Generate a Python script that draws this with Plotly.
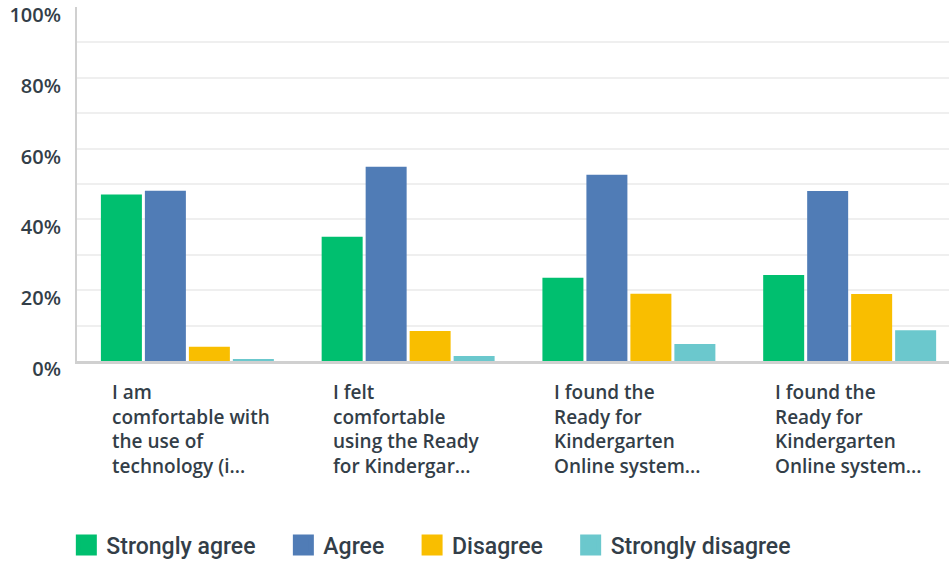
import plotly.graph_objects as go

categories = ["Q1", "Q2", "Q3", "Q4"]
category_labels = [
    "I am<br>comfortable with<br>the use of<br>technology (i...",
    "I felt<br>comfortable<br>using the Ready<br>for Kindergar...",
    "I found the<br>Ready for<br>Kindergarten<br>Online system...",
    "I found the<br>Ready for<br>Kindergarten<br>Online system...",
]
series_names = ["Strongly agree", "Agree", "Disagree", "Strongly disagree"]
strongly_agree = [47.0, 35.1, 23.5, 24.3]
agree = [48.1, 54.9, 52.6, 48.0]
disagree = [4.0, 8.5, 19.0, 18.9]
strongly_disagree = [0.4, 1.4, 4.8, 8.7]
colors = ["#00bf6f", "#507cb6", "#f9be00", "#6bc8cd"]
y_tickvals = [0, 20, 40, 60, 80, 100]
y_ticktext = ["0%", "20%", "40%", "60%", "80%", "100%"]

TEXT = "#333e48"
FONT = "Open Sans"

fig = go.Figure()
for name, vals, col in zip(series_names, [strongly_agree, agree, disagree, strongly_disagree], colors):
    fig.add_trace(go.Bar(x=categories, y=vals, name=name, marker=dict(color=col, line=dict(width=0)),
                         showlegend=False, hoverinfo="skip"))
    fig.add_trace(go.Scatter(x=[None], y=[None], mode="markers", name=name + "\u00a0" * 4,
                             marker=dict(symbol="square", size=28, color=col,
                                         line=dict(width=5, color=col)), showlegend=True))

for cat, lab in zip(categories, category_labels):
    fig.add_annotation(x=cat, y=0, xref="x", yref="y", text=lab, showarrow=False,
                       xanchor="left", yanchor="top", align="left", xshift=-77, yshift=-16,
                       font=dict(family=FONT, size=19, color=TEXT, weight=600))

fig.update_layout(
    width=949, height=563,
    margin=dict(l=77, r=0, t=7, b=202, autoexpand=False),
    paper_bgcolor="white", plot_bgcolor="white",
    barmode="group", bargap=0.203, bargroupgap=0.068,
    showlegend=True,
    legend=dict(orientation="h", xref="container", yref="container", x=0.0699, y=0.032,
                xanchor="left", yanchor="middle", itemsizing="trace",
                font=dict(family="Roboto", size=23, color=TEXT, weight=500)),
    xaxis=dict(range=[-0.5, 3.45], showticklabels=False, showgrid=False, showline=True,
               linecolor="#d0d0d0", linewidth=2.5, ticks="", fixedrange=True, automargin=False),
    yaxis=dict(range=[0, 100], tickvals=y_tickvals, ticktext=y_ticktext, showgrid=True,
               gridcolor="#efefef", gridwidth=2, zeroline=False, showline=True, automargin=False,
               linecolor="#d0d0d0", linewidth=2, ticks="", ticklabelshift=8, ticklabelstandoff=10,
               fixedrange=True,
               tickfont=dict(family=FONT, size=20, color=TEXT, weight=600),
               minor=dict(dtick=10, showgrid=True, gridcolor="#efefef", gridwidth=2)),
)

fig.write_html("out.html", config={"displayModeBar": False},
               post_script="document.body.style.margin='0';")
